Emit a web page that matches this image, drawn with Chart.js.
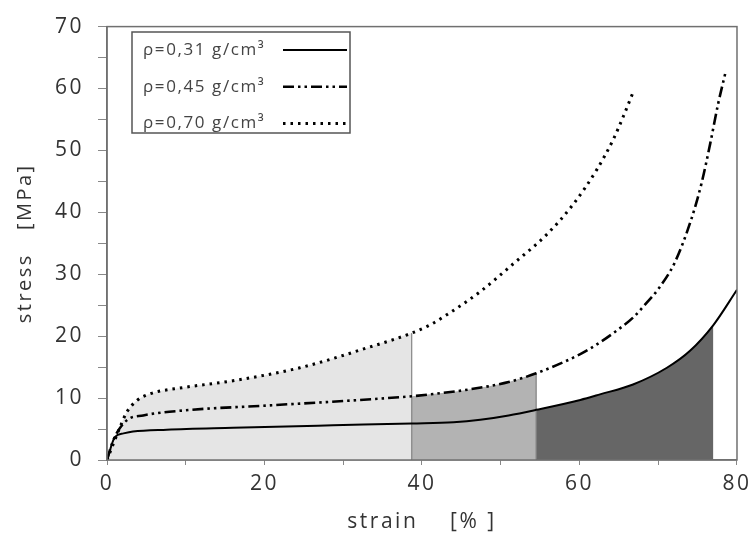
<!DOCTYPE html>
<html>
<head>
<meta charset="utf-8">
<script src="https://cdn.jsdelivr.net/npm/chart.js"></script>
<style>
html, body { margin: 0; padding: 0; background: #fff; }
#wrap { width: 755px; height: 539px; }
</style>
</head>
<body>
<div id="wrap"><canvas id="stressChart"></canvas></div>
<script>
// strain [%] -> stress [MPa]
var strain031 = [0, 1.0, 2.1, 3.3, 7.6, 16, 28.7, 38.7, 44, 47.4, 51, 54.5, 60.1, 62.6, 66.8, 71.1, 74.0, 77.0, 80];
var stress031 = [0, 3.7, 4.3, 4.6, 4.9, 5.2, 5.6, 5.9, 6.1, 6.5, 7.2, 8.1, 9.7, 10.6, 12.2, 14.9, 17.6, 21.8, 27.5];

var strain045 = [0, 0.8, 2.5, 4.6, 9.7, 20.3, 30.9, 38.7, 41, 46, 51, 54.5, 60.1, 62.6, 64.3, 66.8, 68.6, 70.0, 72.1, 74.2, 75.5, 76.6, 77.6, 78.6];
var stress045 = [0, 3.2, 6.4, 7.2, 8.0, 8.8, 9.6, 10.3, 10.6, 11.4, 12.6, 14.0, 17.1, 19.0, 20.5, 23.0, 25.5, 27.6, 31.9, 38.9, 44.7, 51.1, 57.5, 62.9];

var strain070 = [0, 1.65, 2.5, 3.8, 5.5, 9.7, 16, 24.5, 33, 38.7, 41, 43.2, 47.4, 51.6, 55.9, 59.2, 62.2, 64.3, 65.6, 66.9];
var stress070 = [0, 5.3, 7.7, 9.6, 10.7, 11.7, 12.8, 14.9, 18.1, 20.5, 21.8, 23.5, 27.2, 31.7, 36.5, 41.3, 46.9, 51.8, 55.6, 59.7];

// shaded zones: start / end strain
var zoneEdges = [0, 38.7, 54.5, 77.0];

var densityLabels = ['ρ=0,31 g/cm³', 'ρ=0,45 g/cm³', 'ρ=0,70 g/cm³'];

function pts(xs, ys) {
    return xs.map(function (x, i) { return { x: x, y: ys[i] }; });
}
function slice(xs, ys, from, to) {
    return pts(xs, ys).filter(function (p) { return p.x >= from && p.x <= to; });
}
function stressAt(xs, ys, x) {
    return ys[xs.indexOf(x)];
}

var zoneStyle = { showLine: true, borderWidth: 0, pointRadius: 0, fill: 'origin', cubicInterpolationMode: 'monotone', order: 3 };
var edgeStyle = { showLine: true, borderColor: '#6f6f6f', borderWidth: 1, pointRadius: 0, fill: false, order: 2 };

var datasets = [
    // curves
    { label: densityLabels[0], data: pts(strain031, stress031), borderColor: '#000', borderWidth: 2, borderDash: [], order: 0 },
    { label: densityLabels[1], data: pts(strain045, stress045), borderColor: '#000', borderWidth: 2.6, borderDash: [11, 4, 2.5, 4, 2.5, 4], order: 0 },
    { label: densityLabels[2], data: pts(strain070, stress070), borderColor: '#000', borderWidth: 3, borderDash: [2.5, 5], order: 0 },
    // zones
    Object.assign({ data: slice(strain070, stress070, zoneEdges[0], zoneEdges[1]), backgroundColor: '#e5e5e5' }, zoneStyle),
    Object.assign({ data: slice(strain045, stress045, zoneEdges[1], zoneEdges[2]), backgroundColor: '#b3b3b3' }, zoneStyle),
    Object.assign({ data: slice(strain031, stress031, zoneEdges[2], zoneEdges[3]), backgroundColor: '#666666' }, zoneStyle),
    // zone edges
    Object.assign({ data: [{ x: zoneEdges[1], y: 0 }, { x: zoneEdges[1], y: stressAt(strain070, stress070, zoneEdges[1]) }] }, edgeStyle),
    Object.assign({ data: [{ x: zoneEdges[2], y: 0 }, { x: zoneEdges[2], y: stressAt(strain045, stress045, zoneEdges[2]) }] }, edgeStyle)
];
datasets.slice(0, 3).forEach(function (d) {
    d.showLine = true; d.pointRadius = 0; d.fill = false; d.cubicInterpolationMode = 'monotone';
});

var spacing = {
    id: 'spacing',
    beforeDraw: function (chart) { chart.ctx.letterSpacing = '2.5px'; }
};

var frame = {
    id: 'frame',
    afterDatasetsDraw: function (chart) {
        var a = chart.chartArea, ctx = chart.ctx;
        ctx.save();
        ctx.strokeStyle = '#707070';
        ctx.lineWidth = 1.5;
        ctx.strokeRect(a.left, a.top, a.right - a.left, a.bottom - a.top);
        ctx.restore();
    }
};

var legendBox = {
    id: 'legendBox',
    afterDraw: function (chart) {
        var ctx = chart.ctx;
        ctx.save();
        ctx.letterSpacing = '1.6px';
        ctx.fillStyle = '#fff';
        ctx.fillRect(132, 32, 218, 101);
        ctx.strokeStyle = '#555';
        ctx.lineWidth = 1.5;
        ctx.strokeRect(132, 32, 218, 101);
        for (var i = 0; i < 3; i++) {
            var ds = chart.data.datasets[i];
            var y = 50 + i * 36.7;
            ctx.font = '17px "Open Sans"';
            ctx.fillStyle = '#444';
            ctx.textBaseline = 'middle';
            ctx.textAlign = 'left';
            ctx.fillText(ds.label, 143, y);
            ctx.strokeStyle = '#000';
            ctx.lineWidth = ds.borderWidth;
            ctx.setLineDash(ds.borderDash);
            ctx.beginPath();
            ctx.moveTo(283, y);
            ctx.lineTo(347, y);
            ctx.stroke();
        }
        ctx.restore();
    }
};

var ctx = document.getElementById('stressChart').getContext('2d');
var stressChart = new Chart(ctx, {
    type: 'scatter',
    data: { datasets: datasets },
    options: {
        responsive: true,
        maintainAspectRatio: false,
        animation: false,
        layout: { padding: { top: 22, right: 18, left: 0, bottom: 0 } },
        plugins: { legend: { display: false }, tooltip: { enabled: false } },
        scales: {
            x: {
                type: 'linear', min: 0, max: 80,
                afterFit: function (s) { s.height = 79; },
                ticks: {
                    stepSize: 10, padding: 6, color: '#333',
                    font: { family: 'Open Sans', size: 21 },
                    maxRotation: 0,
                    callback: function (v) { return v % 20 === 0 ? v : ''; }
                },
                grid: { drawOnChartArea: false, drawTicks: true, tickLength: 5, color: '#888' },
                border: { display: true, color: '#707070', width: 1.5 },
                title: { display: true, text: 'strain    [% ]', color: '#333', font: { family: 'Open Sans', size: 21 }, padding: { top: 0, bottom: 4 } }
            },
            y: {
                min: 0, max: 70,
                afterFit: function (s) { s.width = 107; },
                ticks: {
                    stepSize: 5, padding: 14, color: '#333',
                    font: { family: 'Open Sans', size: 21 },
                    callback: function (v) { return v % 10 === 0 ? v : ''; }
                },
                grid: { drawOnChartArea: false, drawTicks: true, tickLength: 9, color: '#888' },
                border: { display: true, color: '#707070', width: 1.5 },
                title: { display: true, text: 'stress   [MPa]', color: '#333', font: { family: 'Open Sans', size: 20 }, padding: { top: 13, bottom: 0 } }
            }
        }
    },
    plugins: [spacing, frame, legendBox]
});
</script>
</body>
</html>
